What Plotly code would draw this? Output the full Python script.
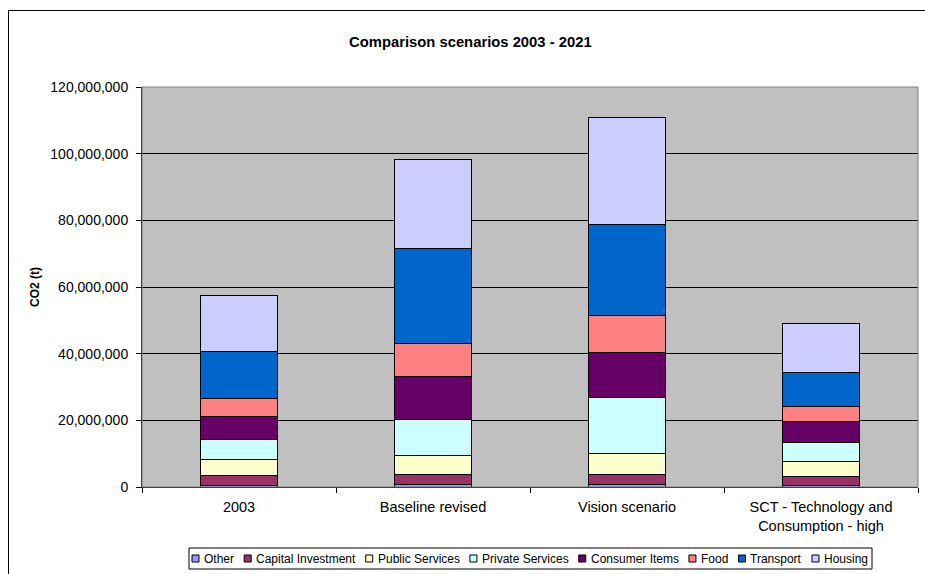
import plotly.graph_objects as go

# Emissions by sector for each scenario (tonnes CO2)
categories = ["2003", "Baseline revised", "Vision scenario",
              "SCT - Technology and<br>Consumption - high"]
sectors = ["Other", "Capital Investment", "Public Services", "Private Services",
           "Consumer Items", "Food", "Transport", "Housing"]
other = [600000, 700000, 900000, 500000]
capital_investment = [2800000, 3200000, 3000000, 2800000]
public_services = [4800000, 5700000, 6100000, 4400000]
private_services = [6200000, 10800000, 16900000, 5800000]
consumer_items = [6900000, 12800000, 13600000, 6200000]
food = [5300000, 9900000, 10900000, 4600000]
transport = [14000000, 28600000, 27500000, 10100000]
housing = [17000000, 26500000, 31900000, 14700000]
y_ticks = [0, 20000000, 40000000, 60000000, 80000000, 100000000, 120000000]

series = [other, capital_investment, public_services, private_services,
          consumer_items, food, transport, housing]
colors = ["#9999FF", "#993366", "#FFFFCC", "#CCFFFF",
          "#660066", "#FF8080", "#0066CC", "#CCCCFF"]

W, H = 925, 574
PL, PR, PT, PB = 142, 918, 87, 487  # plot area in pixels
FONT = "Liberation Sans, Arial, sans-serif"


def px_x(x):
    return (x - PL) / (PR - PL)


def px_y(y):
    return (PB - y) / (PB - PT)


fig = go.Figure()
for name, vals, col in zip(sectors, series, colors):
    fig.add_trace(go.Bar(
        x=categories, y=vals, name=name,
        marker=dict(color=col, line=dict(color="black", width=1)),
        showlegend=False,
    ))

shapes = []
annotations = []

# outer chart border
shapes.append(dict(type="rect", xref="paper", yref="paper",
                   x0=px_x(8.5), x1=px_x(940), y0=px_y(10.5), y1=px_y(600),
                   line=dict(color="black", width=1), fillcolor="rgba(0,0,0,0)",
                   layer="above"))
# plot area border
shapes.append(dict(type="rect", xref="paper", yref="paper",
                   x0=0, x1=1, y0=0, y1=1,
                   line=dict(color="#808080", width=1), fillcolor="rgba(0,0,0,0)",
                   layer="above"))

# legend: box, swatches and labels
ADV = {" ": 278, "a": 556, "b": 556, "c": 500, "d": 556, "e": 556, "g": 556,
       "h": 556, "i": 222, "l": 222, "m": 833, "n": 556, "o": 556, "p": 556,
       "r": 333, "s": 500, "t": 278, "u": 556, "v": 500, "C": 722, "F": 611,
       "H": 722, "I": 278, "O": 778, "P": 667, "S": 667, "T": 611}
LEG_FS = 12


def text_w(s):
    return sum(ADV.get(ch, 556) for ch in s) * LEG_FS / 1000


leg_x0, leg_x1, leg_y0, leg_y1 = 189, 872, 548, 569
shapes.append(dict(type="rect", xref="paper", yref="paper",
                   x0=px_x(leg_x0), x1=px_x(leg_x1), y0=px_y(leg_y0), y1=px_y(leg_y1),
                   line=dict(color="black", width=1), fillcolor="white", layer="above"))
sw, tg = 7, 3
start, end = 192, 866
widths = [text_w(s) for s in sectors]
gap = (end - start - sum(sw + tg + w for w in widths)) / (len(sectors) - 1)
yc = (leg_y0 + leg_y1) / 2
x = start
for name, col, w in zip(sectors, colors, widths):
    shapes.append(dict(type="rect", xref="paper", yref="paper",
                       x0=px_x(x), x1=px_x(x + sw), y0=px_y(yc + 3.5), y1=px_y(yc - 3.5),
                       line=dict(color="black", width=1), fillcolor=col, layer="above"))
    annotations.append(dict(text=name, xref="paper", yref="paper",
                            x=px_x(x + sw + tg), y=px_y(yc), xanchor="left", yanchor="middle",
                            showarrow=False, font=dict(size=LEG_FS, color="black", family=FONT)))
    x += sw + tg + w + gap

# chart title and y-axis title
annotations.append(dict(text="<b>Comparison scenarios 2003 - 2021</b>", xref="paper", yref="paper",
                        x=px_x(470), y=px_y(42), xanchor="center", yanchor="middle",
                        showarrow=False, font=dict(size=14.8, color="black", family=FONT)))
annotations.append(dict(text="<b>CO2 (t)</b>", xref="paper", yref="paper",
                        x=px_x(35), y=px_y(287), xanchor="center", yanchor="middle",
                        textangle=-90, showarrow=False,
                        font=dict(size=12, color="black", family=FONT)))

fig.update_layout(
    width=W, height=H,
    margin=dict(l=PL, r=W - PR, t=PT, b=H - PB, pad=0),
    barmode="stack", bargap=0.6,
    plot_bgcolor="#C0C0C0", paper_bgcolor="white",
    font=dict(family=FONT, size=12, color="black"),
    shapes=shapes, annotations=annotations,
    showlegend=False,
)
fig.update_xaxes(type="category", showline=True, linecolor="black", linewidth=1,
                 ticks="outside", tickson="boundaries", ticklen=5, tickcolor="black",
                 showgrid=False, tickfont=dict(size=14.5), ticklabelstandoff=7)
fig.update_yaxes(range=[0, 120000000], tickvals=y_ticks, tickformat=",d",
                 showline=True, linecolor="black", linewidth=1,
                 ticks="outside", ticklen=5, tickcolor="black",
                 showgrid=True, gridcolor="black", gridwidth=1, zeroline=False,
                 tickfont=dict(size=14), ticklabelstandoff=5)

fig.write_html("out.html")
